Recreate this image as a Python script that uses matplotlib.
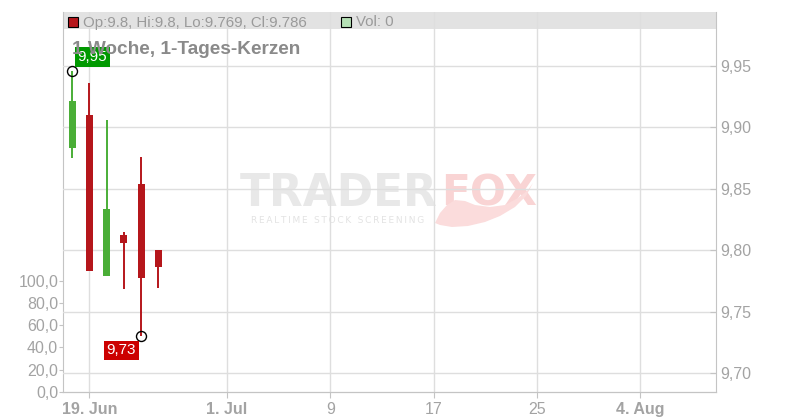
import numpy as np
import matplotlib
matplotlib.use('Agg')
import matplotlib.pyplot as plt
from matplotlib.patches import Rectangle, Polygon

plt.rcParams['font.family'] = ['Liberation Sans', 'DejaVu Sans']

# ---- data ----
dates = ['2025-06-18', '2025-06-19', '2025-06-20', '2025-06-23', '2025-06-24', '2025-06-25']
opens = [9.883, 9.910, 9.779, 9.8125, 9.854, 9.800]
highs = [9.946, 9.936, 9.906, 9.815, 9.876, 9.800]
lows = [9.875, 9.783, 9.779, 9.768, 9.730, 9.769]
closes = [9.921, 9.783, 9.833, 9.806, 9.7775, 9.786]
volumes = [0, 0, 0, 0, 0, 0]

tick_dates = ['2025-06-19', '2025-07-01', '2025-07-09', '2025-07-17', '2025-07-25', '2025-08-04']
tick_labels = ['19. Jun', '1. Jul', '9', '17', '25', '4. Aug']
tick_bold = [True, True, False, False, False, True]
price_ticks = [9.70, 9.75, 9.80, 9.85, 9.90, 9.95]
vol_ticks = [0, 20, 40, 60, 80, 100]

title = '1 Woche, 1-Tages-Kerzen'
header = 'Op:9.8, Hi:9.8, Lo:9.769, Cl:9.786'
vol_header = 'Vol: 0'

# ---- colours ----
GREEN = '#4aae37'
RED = '#b5161b'
GRID = '#dedede'
AXIS = '#c4c4c4'
LABEL = '#a3a3a3'

W, H = 800, 420
fig = plt.figure(figsize=(W / 100, H / 100), dpi=100)
L, R, T, B = 63, 716, 12, 392
axv = fig.add_axes([L / W, (H - B) / H, (R - L) / W, (B - T) / H])
axp = axv.twinx()

# ordinal (trading day) x positions
x = np.busday_count(dates[0], dates).astype(float)
xt = np.busday_count(dates[0], tick_dates).astype(float)

axv.set_xlim(-0.54, 37.42)
axv.set_ylim(0, 341.4)
axp.set_ylim(9.6845, 9.9937)

# volume axis (left)
axv.bar(x, volumes, width=0.41, color='#b5e0b5')
axv.set_yticks(vol_ticks)
axv.set_yticklabels([f'{v:.1f}'.replace('.', ',') for v in vol_ticks])
axv.tick_params(axis='y', length=3, color=AXIS, labelcolor=LABEL, labelsize=11.5, pad=0.5)

# x axis
axv.set_xticks(xt)
axv.set_xticklabels(tick_labels)
for lab, b in zip(axv.get_xticklabels(), tick_bold):
    lab.set_fontweight('bold' if b else 'normal')
axv.tick_params(axis='x', length=4, color=AXIS, labelcolor=LABEL, labelsize=11.5, pad=3)
axv.set_axisbelow(True)
axv.grid(axis='x', color=GRID, lw=1)

# price axis (right)
axp.set_yticks(price_ticks)
axp.set_yticklabels([f'{v:.2f}'.replace('.', ',') for v in price_ticks])
axp.tick_params(axis='y', direction='in', length=4, color=AXIS, labelcolor=LABEL, labelsize=11.5, pad=3)
axp.set_axisbelow(True)
axp.grid(axis='y', color=GRID, lw=1)

for a in (axv, axp):
    for s in a.spines.values():
        s.set_color(AXIS)
    a.spines['top'].set_visible(False)
axv.spines['right'].set_visible(False)
axp.spines['left'].set_visible(False)

# header band
axv.add_patch(Rectangle((0, (B - 29) / (B - T)), 1, 17 / (B - T), transform=axv.transAxes,
                        facecolor='#e2e2e2', edgecolor='none', zorder=0.2))

# watermark
axv.text(240 / W, (H - 206) / H, 'TRADER', transform=fig.transFigure, fontsize=31.6,
         fontweight='bold', family='DejaVu Sans', color='#e8e8e8', ha='left', va='baseline', zorder=0.1)
axv.text(441 / W, (H - 206) / H, 'FOX', transform=fig.transFigure, fontsize=30.4,
         fontweight='bold', family='DejaVu Sans', color='#f9d4d4', ha='left', va='baseline', zorder=0.1)
axv.text(251 / W, (H - 223) / H, '\u2009'.join('REALTIME STOCK SCREENING'), transform=fig.transFigure,
         fontsize=6.5, family='DejaVu Sans', color='#e3e3e3', ha='left', va='baseline', zorder=0.1)
tail_px = [(435, 223), (440, 213), (447, 205), (455, 200), (465, 201), (475, 205), (490, 207),
           (505, 205), (518, 198), (528, 190), (533, 183), (526, 196), (515, 207), (500, 216),
           (485, 222), (468, 226), (452, 227), (440, 225)]
axv.add_patch(Polygon([(px / W, (H - py) / H) for px, py in tail_px], closed=True,
                      transform=fig.transFigure, facecolor='#fbdcdc', edgecolor='none', zorder=0.1))

# candles
colors = [GREEN if c >= o else RED for o, c in zip(opens, closes)]
axp.vlines(x, lows, highs, colors=colors, lw=1.4, zorder=3)
bottoms = [min(o, c) for o, c in zip(opens, closes)]
heights = [max(abs(c - o), 0.0008) for o, c in zip(opens, closes)]
axp.bar(x, heights, bottom=bottoms, width=0.41, color=colors, zorder=4)

# max / min markers
imax = int(np.argmax(highs))
imin = int(np.argmin(lows))
axp.plot([x[imax]], [highs[imax]], 'o', ms=7.2, mfc='none', mec='black', mew=1, zorder=5)
axp.plot([x[imin]], [lows[imin]], 'o', ms=7.2, mfc='none', mec='black', mew=1, zorder=5)
axp.annotate(f'{highs[imax]:.2f}'.replace('.', ','), (x[imax], highs[imax]), xytext=(14.5, 9.8),
             textcoords='offset points', ha='center', va='center', color='white', fontsize=11,
             bbox=dict(boxstyle='square,pad=0.17', facecolor='#009900', edgecolor='none'), zorder=6)
axp.annotate(f'{lows[imin]:.2f}'.replace('.', ','), (x[imin], lows[imin]), xytext=(-14.3, -10.1),
             textcoords='offset points', ha='center', va='center', color='white', fontsize=11,
             bbox=dict(boxstyle='square,pad=0.17', facecolor='#cc0000', edgecolor='none'), zorder=6)

# header legend
fig.add_artist(Rectangle((68 / W, (H - 27) / H), 10 / W, 10 / H, transform=fig.transFigure,
                         facecolor=RED, edgecolor='black', lw=0.8))
fig.text(83 / W, (H - 26.5) / H, header, fontsize=10.8, color='#9a9a9a', ha='left', va='baseline')
fig.add_artist(Rectangle((341 / W, (H - 27) / H), 10 / W, 10 / H, transform=fig.transFigure,
                         facecolor='#b5e0b5', edgecolor='black', lw=0.8))
fig.text(356 / W, (H - 26.5) / H, vol_header, fontsize=10.8, color='#9a9a9a', ha='left', va='baseline')

# title
fig.text(72 / W, (H - 54) / H, title, fontsize=13.7, fontweight='bold', color='#8a8a8a',
         ha='left', va='baseline')

fig.savefig('out.png', dpi=100)
